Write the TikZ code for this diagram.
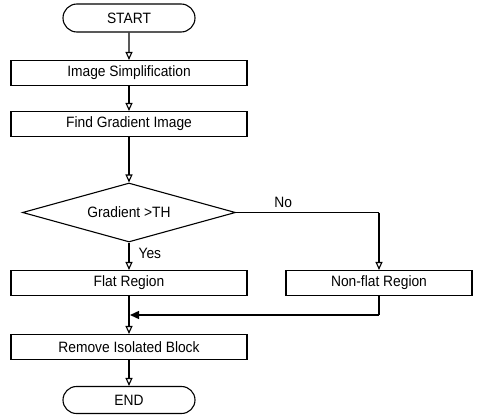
\documentclass[tikz,border=0pt]{standalone}
\usepackage{fontspec}
\setmainfont{Liberation Sans}[FakeStretch=0.92]
\usetikzlibrary{shapes.geometric,shapes.misc,arrows.meta}
\begin{document}
\begin{tikzpicture}[x=1pt,y=-1pt,
  every node/.style={font=\fontsize{15}{17}\selectfont},
  proc/.style={draw,line width=1.1pt,rectangle,minimum width=236pt,minimum height=25pt,inner sep=0pt},
  term/.style={draw,line width=1.1pt,rounded rectangle,minimum width=132pt,minimum height=28pt,inner sep=0pt},
  dec/.style={draw,line width=1.1pt,diamond,aspect=3.6,minimum width=213pt,minimum height=59pt,inner sep=0pt},
  flow/.style={line width=1.1pt,-{Triangle[open,length=8pt,width=7pt]}},
  mflow/.style={line width=1.4pt,-{Triangle[length=9pt,width=8pt]}},
  lbl/.style={inner sep=1pt}]
\useasboundingbox (0,0) rectangle (479,418);
\node[term] (start) at (129,18) {START};
\node[proc] (simp) at (129,73) {Image Simplification};
\node[proc] (grad) at (129,124) {Find Gradient Image};
\node[dec] (cond) at (129,212.5) {Gradient >TH};
\node[proc] (flat) at (129,283) {Flat Region};
\node[proc,minimum width=186pt] (nonflat) at (379,283) {Non-flat Region};
\node[proc] (remove) at (129,347) {Remove Isolated Block};
\node[term,minimum height=27pt] (end) at (129,400) {END};
\coordinate (m) at (129,315);
\coordinate (mr) at (379,315);
\coordinate (corner) at (379,212.5);
\draw[flow] (start) -- (simp);
\draw[flow] (simp) -- (grad);
\draw[flow] (grad) -- (cond);
\draw[flow] (cond.south) -- node[lbl,pos=0.4,right=8pt]{Yes} (flat);
\draw[line width=1.1pt] (cond.east) -- node[lbl,pos=0.33,above=3pt]{No} (corner);
\draw[flow] (corner) -- (nonflat);
\draw[flow] (flat) -- (remove);
\draw[line width=1.4pt] (nonflat.south) -- (mr);
\draw[mflow] (mr) -- ([xshift=1pt]m);
\draw[flow] (remove) -- (end);
\end{tikzpicture}
\end{document}
